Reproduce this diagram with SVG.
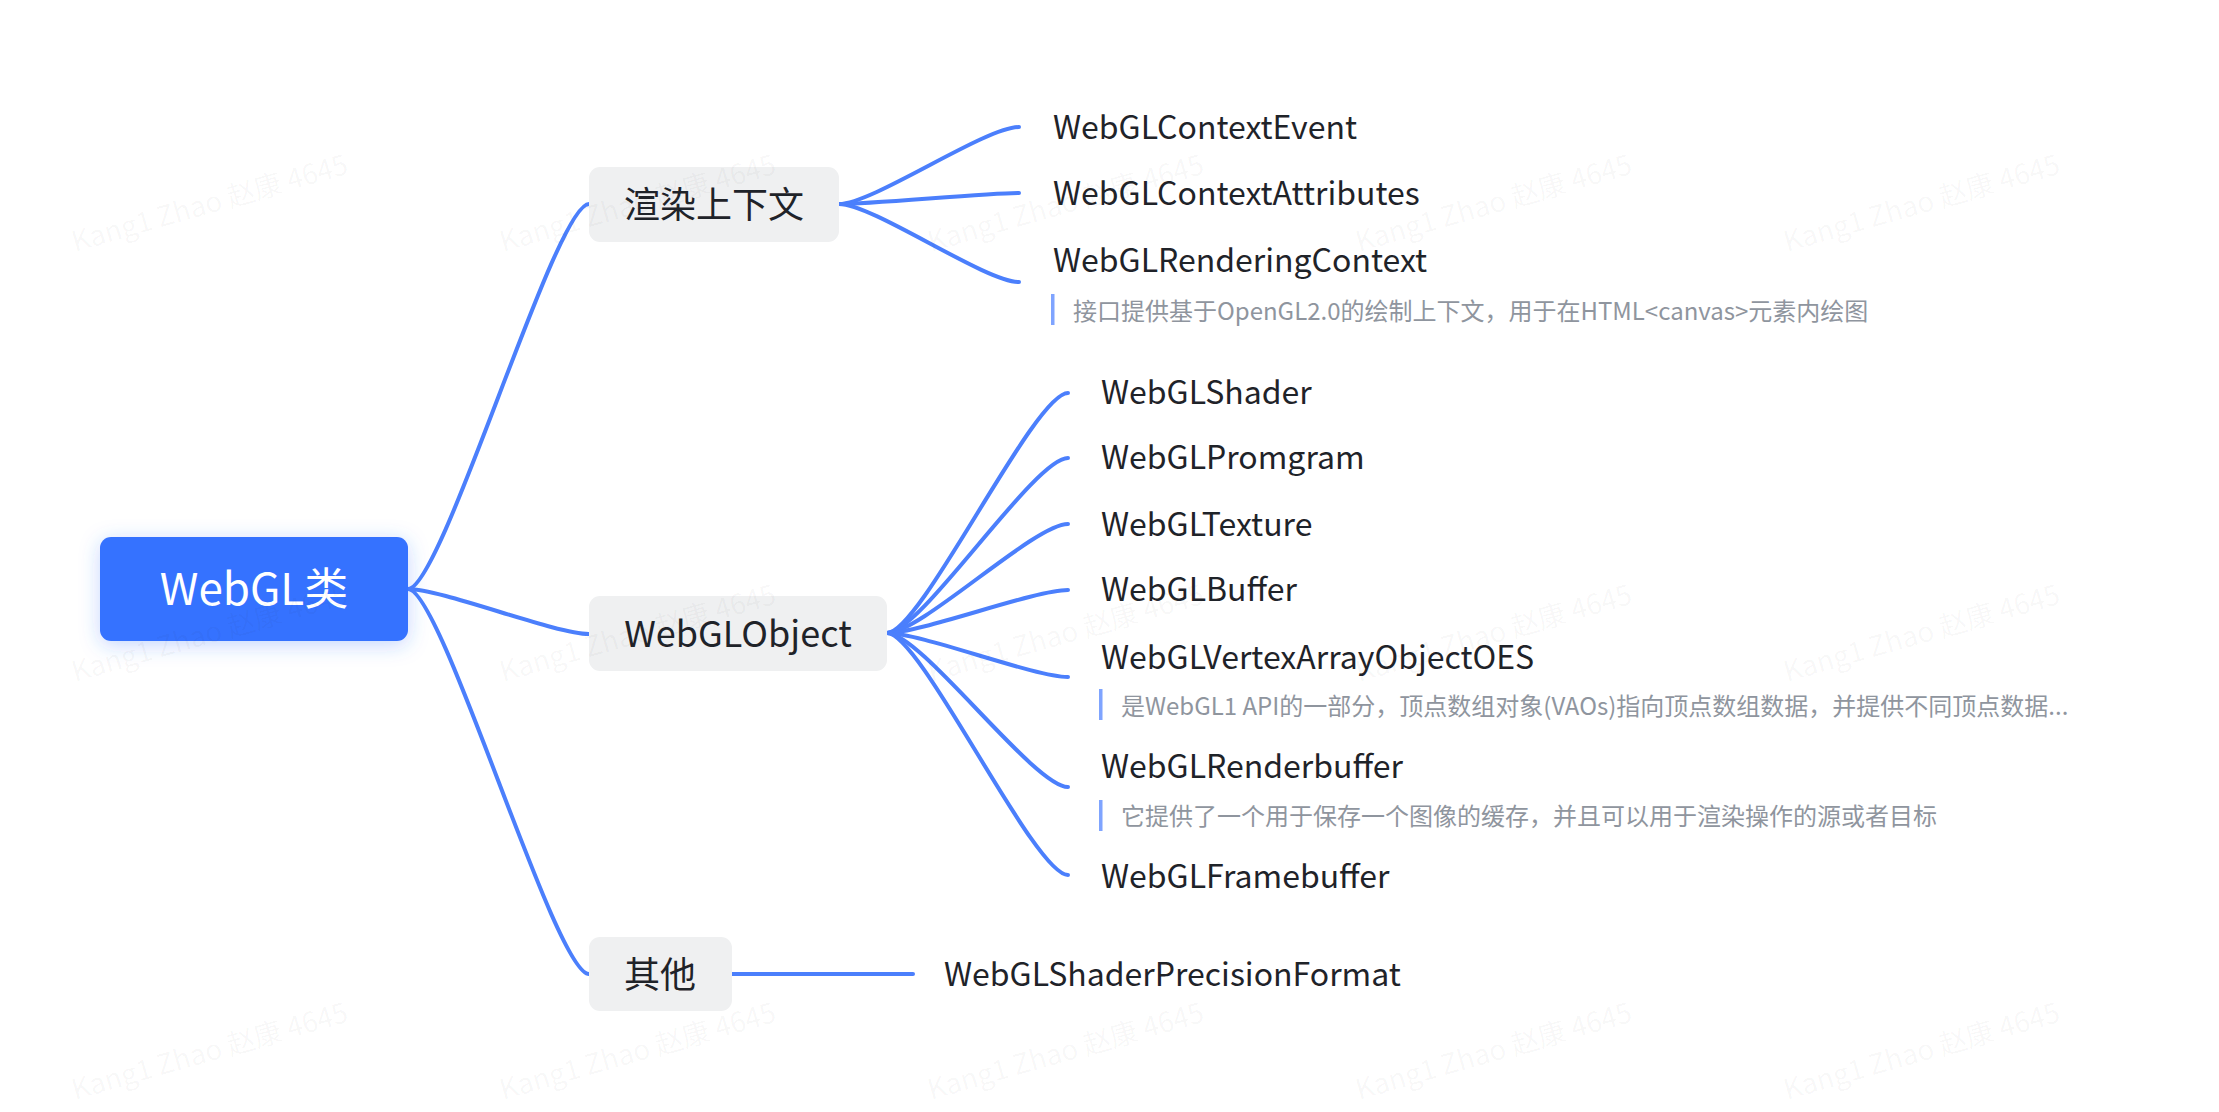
<svg xmlns="http://www.w3.org/2000/svg" width="2219" height="1112" viewBox="0 0 2219 1112">
<defs>
<style>
.t{font-family:"Noto Sans CJK SC","Noto Sans",sans-serif;}
.node{fill:#eff0f1;}
.nt{font-size:36px;fill:#1f2329;text-anchor:middle;dominant-baseline:central;}
.ct{font-size:32px;fill:#1f2329;dominant-baseline:central;}
.dt{font-size:24px;fill:#8f959e;dominant-baseline:central;}
.bar{fill:#7fa4ff;}
.ln{fill:none;stroke:#4b7ffc;stroke-width:4;stroke-linecap:round;}
.wm{font-size:28px;fill:#1f2329;fill-opacity:0.04;}
</style>
<filter id="sh" x="-20%" y="-40%" width="140%" height="180%">
<feDropShadow dx="0" dy="4" stdDeviation="10" flood-color="#3370ff" flood-opacity="0.28"/>
</filter>
</defs>
<rect width="2219" height="1112" fill="#ffffff"/>

<g id="connectors">
<path class="ln" d="M408,589 C442,589 555,204 589,204"/>
<path class="ln" d="M408,589 C442,589 555,634 589,634"/>
<path class="ln" d="M408,589 C442,589 555,974 589,974"/>
<path class="ln" d="M839,204 C873,204 985,127 1019,127"/>
<path class="ln" d="M839,204 C873,204 985,193 1019,193"/>
<path class="ln" d="M839,204 C873,204 985,282 1019,282"/>
<path class="ln" d="M887,633 C921,633 1034,393 1068,393"/>
<path class="ln" d="M887,633 C921,633 1034,458 1068,458"/>
<path class="ln" d="M887,633 C921,633 1034,524 1068,524"/>
<path class="ln" d="M887,633 C921,633 1034,590 1068,590"/>
<path class="ln" d="M887,633 C921,633 1034,677 1068,677"/>
<path class="ln" d="M887,633 C921,633 1034,787 1068,787"/>
<path class="ln" d="M887,633 C921,633 1034,875 1068,875"/>
<path class="ln" d="M732,974 L913,974"/>
</g>

<g id="root">
<rect x="100" y="537" width="308" height="104" rx="11" fill="#3672ff" filter="url(#sh)"/>
<text class="t" x="254" y="586" font-size="44" fill="#ffffff" text-anchor="middle" dominant-baseline="central">WebGL类</text>
</g>

<g id="n-context">
<rect class="node" x="589" y="167" width="250" height="75" rx="11"/>
<text class="t nt" x="714" y="202">渲染上下文</text>
</g>
<g id="n-object">
<rect class="node" x="589" y="596" width="298" height="75" rx="11"/>
<text class="t nt" x="738" y="631">WebGLObject</text>
</g>
<g id="n-other">
<rect class="node" x="589" y="937" width="143" height="74" rx="11"/>
<text class="t nt" x="660" y="972">其他</text>
</g>

<g id="c-contextevent"><text class="t ct" x="1053" y="125">WebGLContextEvent</text></g>
<g id="c-contextattributes"><text class="t ct" x="1053" y="191">WebGLContextAttributes</text></g>
<g id="c-renderingcontext">
<text class="t ct" x="1053" y="258">WebGLRenderingContext</text>
<rect class="bar" x="1051" y="294" width="3.5" height="31"/>
<text class="t dt" x="1073" y="309">接口提供基于OpenGL2.0的绘制上下文，用于在HTML&lt;canvas&gt;元素内绘图</text>
</g>

<g id="c-shader"><text class="t ct" x="1101" y="390">WebGLShader</text></g>
<g id="c-program"><text class="t ct" x="1101" y="455">WebGLPromgram</text></g>
<g id="c-texture"><text class="t ct" x="1101" y="522">WebGLTexture</text></g>
<g id="c-buffer"><text class="t ct" x="1101" y="587">WebGLBuffer</text></g>
<g id="c-vao">
<text class="t ct" x="1101" y="655">WebGLVertexArrayObjectOES</text>
<rect class="bar" x="1099" y="689" width="3.5" height="31"/>
<text class="t dt" x="1121" y="704">是WebGL1 API的一部分，顶点数组对象(VAOs)指向顶点数组数据，并提供不同顶点数据...</text>
</g>
<g id="c-renderbuffer">
<text class="t ct" x="1101" y="764">WebGLRenderbuffer</text>
<rect class="bar" x="1099" y="800" width="3.5" height="31"/>
<text class="t dt" x="1121" y="814">它提供了一个用于保存一个图像的缓存，并且可以用于渲染操作的源或者目标</text>
</g>
<g id="c-framebuffer"><text class="t ct" x="1101" y="874">WebGLFramebuffer</text></g>

<g id="c-precision"><text class="t ct" x="944" y="972">WebGLShaderPrecisionFormat</text></g>

<g id="watermarks">
<text class="t wm" transform="translate(75,252) rotate(-16)">Kang1 Zhao 赵康 4645</text>
<text class="t wm" transform="translate(503,252) rotate(-16)">Kang1 Zhao 赵康 4645</text>
<text class="t wm" transform="translate(931,252) rotate(-16)">Kang1 Zhao 赵康 4645</text>
<text class="t wm" transform="translate(1359,252) rotate(-16)">Kang1 Zhao 赵康 4645</text>
<text class="t wm" transform="translate(1787,252) rotate(-16)">Kang1 Zhao 赵康 4645</text>
<text class="t wm" transform="translate(75,682) rotate(-16)">Kang1 Zhao 赵康 4645</text>
<text class="t wm" transform="translate(503,682) rotate(-16)">Kang1 Zhao 赵康 4645</text>
<text class="t wm" transform="translate(931,682) rotate(-16)">Kang1 Zhao 赵康 4645</text>
<text class="t wm" transform="translate(1359,682) rotate(-16)">Kang1 Zhao 赵康 4645</text>
<text class="t wm" transform="translate(1787,682) rotate(-16)">Kang1 Zhao 赵康 4645</text>
<text class="t wm" transform="translate(75,1100) rotate(-16)">Kang1 Zhao 赵康 4645</text>
<text class="t wm" transform="translate(503,1100) rotate(-16)">Kang1 Zhao 赵康 4645</text>
<text class="t wm" transform="translate(931,1100) rotate(-16)">Kang1 Zhao 赵康 4645</text>
<text class="t wm" transform="translate(1359,1100) rotate(-16)">Kang1 Zhao 赵康 4645</text>
<text class="t wm" transform="translate(1787,1100) rotate(-16)">Kang1 Zhao 赵康 4645</text>
</g>
</svg>
